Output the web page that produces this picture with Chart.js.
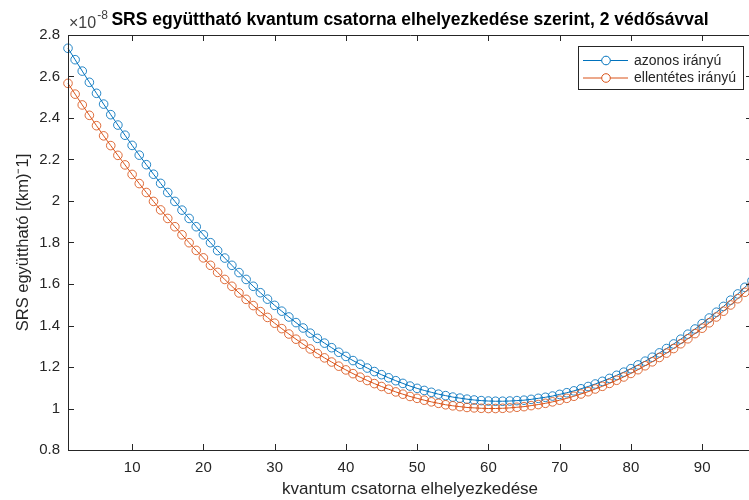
<!DOCTYPE html>
<html>
<head>
<meta charset="utf-8">
<script src="https://cdn.jsdelivr.net/npm/chart.js@4/dist/chart.umd.min.js"></script>
<style>
  html, body { margin: 0; padding: 0; overflow: hidden; background: #fff; }
  #wrap { width: 760px; height: 500px; }
</style>
</head>
<body>
<div id="wrap"><canvas id="srs" width="760" height="500"></canvas></div>
<script>
const channels = [1, 2, 3, 4, 5, 6, 7, 8, 9, 10, 11, 12, 13, 14, 15, 16, 17, 18, 19, 20,
  21, 22, 23, 24, 25, 26, 27, 28, 29, 30, 31, 32, 33, 34, 35, 36, 37, 38, 39, 40,
  41, 42, 43, 44, 45, 46, 47, 48, 49, 50, 51, 52, 53, 54, 55, 56, 57, 58, 59, 60,
  61, 62, 63, 64, 65, 66, 67, 68, 69, 70, 71, 72, 73, 74, 75, 76, 77, 78, 79, 80,
  81, 82, 83, 84, 85, 86, 87, 88, 89, 90, 91, 92, 93, 94, 95, 96, 97];

// values in units of 1e-8 (km)^-1
const sameDir = [2.736, 2.681, 2.626, 2.572, 2.519, 2.467, 2.416, 2.366, 2.317, 2.268,
  2.221, 2.175, 2.129, 2.085, 2.041, 1.998, 1.956, 1.916, 1.876, 1.837,
  1.799, 1.761, 1.725, 1.690, 1.655, 1.622, 1.589, 1.558, 1.527, 1.497,
  1.469, 1.441, 1.414, 1.388, 1.363, 1.338, 1.315, 1.293, 1.271, 1.251,
  1.231, 1.213, 1.195, 1.178, 1.163, 1.148, 1.134, 1.121, 1.108, 1.097,
  1.087, 1.078, 1.069, 1.062, 1.055, 1.050, 1.045, 1.041, 1.038, 1.036,
  1.035, 1.035, 1.036, 1.038, 1.040, 1.044, 1.049, 1.054, 1.060, 1.068,
  1.076, 1.085, 1.095, 1.106, 1.118, 1.131, 1.145, 1.160, 1.175, 1.192,
  1.210, 1.228, 1.247, 1.268, 1.289, 1.311, 1.334, 1.358, 1.383, 1.409,
  1.436, 1.464, 1.492, 1.522, 1.552, 1.584, 1.616];

const oppositeDir = [2.567, 2.515, 2.463, 2.413, 2.363, 2.314, 2.267, 2.220, 2.174, 2.128,
  2.084, 2.041, 1.998, 1.957, 1.916, 1.876, 1.837, 1.799, 1.762, 1.726,
  1.690, 1.656, 1.622, 1.589, 1.557, 1.526, 1.496, 1.467, 1.439, 1.411,
  1.385, 1.359, 1.334, 1.310, 1.287, 1.265, 1.244, 1.224, 1.204, 1.186,
  1.168, 1.151, 1.135, 1.120, 1.106, 1.093, 1.080, 1.069, 1.058, 1.049,
  1.040, 1.032, 1.025, 1.018, 1.013, 1.009, 1.005, 1.003, 1.001, 1.000,
  1.000, 1.001, 1.003, 1.006, 1.009, 1.014, 1.019, 1.025, 1.032, 1.040,
  1.049, 1.059, 1.070, 1.081, 1.094, 1.107, 1.121, 1.136, 1.152, 1.169,
  1.187, 1.206, 1.225, 1.246, 1.267, 1.289, 1.312, 1.336, 1.361, 1.387,
  1.413, 1.441, 1.469, 1.499, 1.529, 1.560, 1.592];

const xTicks = [10, 20, 30, 40, 50, 60, 70, 80, 90];
const yTicks = [0.8, 1, 1.2, 1.4, 1.6, 1.8, 2, 2.2, 2.4, 2.6, 2.8];

const FONT = "'Liberation Sans', Arial, Helvetica, sans-serif";
const AXIS = "#262626";

// MATLAB-like box, inward ticks, title, exponent and legend
const matlabFrame = {
  id: "matlabFrame",
  afterDraw(chart) {
    const ctx = chart.ctx;
    const a = chart.chartArea;
    const xs = chart.scales.x;
    const ys = chart.scales.y;
    ctx.save();
    ctx.strokeStyle = AXIS;
    ctx.lineWidth = 1;
    ctx.beginPath();
    ctx.rect(Math.round(a.left) + 0.5, Math.round(a.top) + 0.5,
      Math.round(a.right - a.left), Math.round(a.bottom - a.top));
    const tl = 6;
    xTicks.forEach((v) => {
      const px = Math.round(xs.getPixelForValue(v)) + 0.5;
      ctx.moveTo(px, a.bottom);
      ctx.lineTo(px, a.bottom - tl);
      ctx.moveTo(px, a.top);
      ctx.lineTo(px, a.top + tl);
    });
    yTicks.forEach((v) => {
      const py = Math.round(ys.getPixelForValue(v)) + 0.5;
      ctx.moveTo(a.left, py);
      ctx.lineTo(a.left + tl, py);
      ctx.moveTo(a.right, py);
      ctx.lineTo(a.right - tl, py);
    });
    ctx.stroke();

    // title
    ctx.fillStyle = "#000";
    ctx.font = "bold 17.5px " + FONT;
    ctx.textAlign = "center";
    ctx.textBaseline = "middle";
    ctx.fillText("SRS együttható kvantum csatorna elhelyezkedése szerint, 2 védősávval",
      (a.left + a.right) / 2, 20);

    // exponent
    ctx.fillStyle = "#404040";
    ctx.textAlign = "left";
    ctx.textBaseline = "alphabetic";
    ctx.font = "16px " + FONT;
    ctx.fillText("\u00d710", a.left + 1, 28);
    const w = ctx.measureText("\u00d710").width;
    ctx.font = "12px " + FONT;
    ctx.fillText("-8", a.left + 1 + w + 1, 19);

    // legend
    const lx = 578, ly = 46, lw = 165, lh = 43;
    ctx.fillStyle = "#fff";
    ctx.fillRect(lx, ly, lw, lh);
    ctx.strokeStyle = AXIS;
    ctx.strokeRect(lx + 0.5, ly + 0.5, lw, lh);
    ctx.font = "14px " + FONT;
    ctx.textBaseline = "middle";
    chart.data.datasets.forEach((ds, i) => {
      const ry = ly + 14.5 + i * 17.5;
      ctx.strokeStyle = ds.borderColor;
      ctx.lineWidth = 1;
      ctx.beginPath();
      ctx.moveTo(lx + 5, ry);
      ctx.lineTo(lx + 50, ry);
      ctx.stroke();
      ctx.beginPath();
      ctx.arc(lx + 28, ry, 4.3, 0, Math.PI * 2);
      ctx.fillStyle = "#fff";
      ctx.fill();
      ctx.stroke();
      ctx.fillStyle = AXIS;
      ctx.fillText(ds.label, lx + 56, ry + 0.5);
    });
    ctx.restore();
  },
};

const toPoints = (ys) => channels.map((c, i) => ({ x: c, y: ys[i] }));

new Chart(document.getElementById("srs").getContext("2d"), {
  type: "line",
  data: {
    datasets: [
      {
        label: "azonos irányú",
        data: toPoints(sameDir),
        borderColor: "#0072BD",
        borderWidth: 1,
        pointStyle: "circle",
        pointRadius: 4.3,
        pointBorderWidth: 1,
        pointBorderColor: "rgba(0,114,189,0.85)",
        pointBackgroundColor: "rgba(0,0,0,0)",
        tension: 0,
        clip: false,
        order: 2,
      },
      {
        label: "ellentétes irányú",
        data: toPoints(oppositeDir),
        borderColor: "#D95319",
        borderWidth: 1,
        pointStyle: "circle",
        pointRadius: 4.3,
        pointBorderWidth: 1,
        pointBorderColor: "rgba(217,83,25,0.85)",
        pointBackgroundColor: "rgba(0,0,0,0)",
        tension: 0,
        clip: false,
        order: 1,
      },
    ],
  },
  options: {
    responsive: false,
    animation: false,
    events: [],
    layout: { padding: { top: 35, right: 8, left: 0, bottom: 0 } },
    plugins: {
      legend: { display: false },
      tooltip: { enabled: false },
    },
    scales: {
      x: {
        type: "linear",
        min: 1,
        max: 97,
        afterBuildTicks: (s) => { s.ticks = xTicks.map((v) => ({ value: v })); },
        afterFit: (s) => { s.height = 50; },
        grid: { display: false, drawTicks: false },
        border: { display: false },
        ticks: {
          color: AXIS,
          padding: 9,
          maxRotation: 0,
          font: { family: FONT, size: 15 },
          callback: (v) => String(v),
        },
        title: {
          display: true,
          text: "kvantum csatorna elhelyezkedése",
          color: AXIS,
          font: { family: FONT, size: 17 },
          padding: { top: 0, bottom: 0 },
        },
      },
      y: {
        type: "linear",
        min: 0.8,
        max: 2.8,
        afterBuildTicks: (s) => { s.ticks = yTicks.map((v) => ({ value: v })); },
        afterFit: (s) => { s.width = 68; },
        grid: { display: false, drawTicks: false },
        border: { display: false },
        ticks: {
          color: AXIS,
          padding: 8,
          font: { family: FONT, size: 15 },
          callback: (v) => String(+v.toFixed(1)),
        },
        title: {
          display: true,
          text: "SRS együttható [(km)\u207b1]",
          color: AXIS,
          font: { family: FONT, size: 16.5 },
          padding: { top: 14, bottom: 0 },
        },
      },
    },
  },
  plugins: [matlabFrame],
});
</script>
</body>
</html>
